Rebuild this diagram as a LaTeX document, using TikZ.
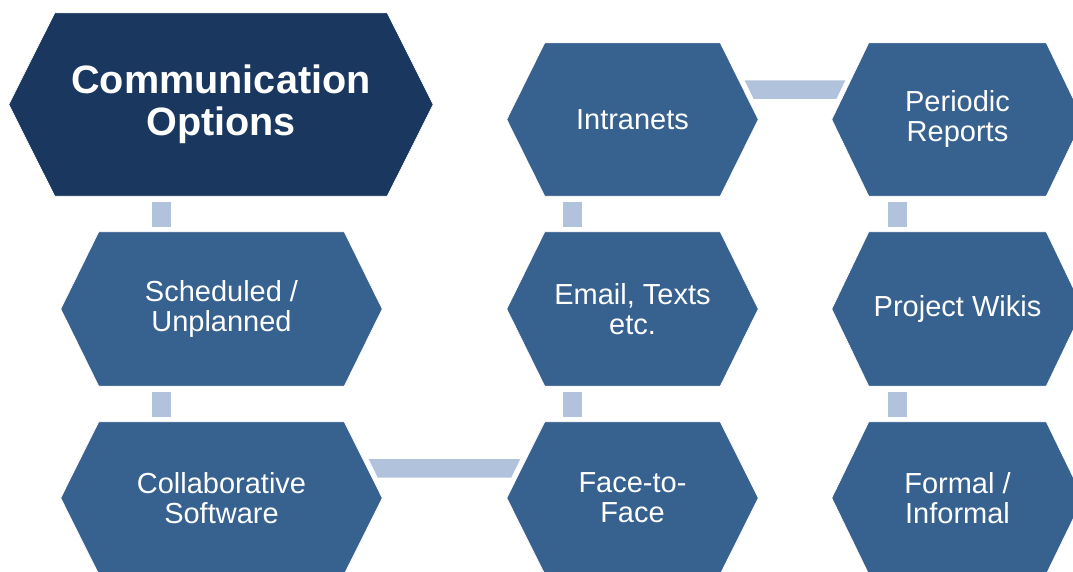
\documentclass[tikz,border=0pt]{standalone}
\usepackage{fontspec}
\setmainfont{Liberation Sans}
\usetikzlibrary{backgrounds,calc}
\definecolor{hexdark}{HTML}{1A375F}
\definecolor{hexmid}{HTML}{37618F}
\definecolor{connlight}{HTML}{B0C2DC}
\tikzset{
  hexbox/.style 2 args={minimum width=#1pt, minimum height=#2pt, inner sep=0pt,
    align=center, text=white, font=\fontsize{29}{30}\selectfont},
  titlefont/.style={font=\fontsize{39.6}{41.5}\selectfont\bfseries},
  darkfill/.style={fill=hexdark, draw=white, line width=0.6pt},
  midfill/.style={fill=hexmid, draw=white, line width=0.6pt},
  link/.style={fill=connlight}
}
\newcommand\hexfill[3]{\path[#3] (#1.west) -- ([xshift=#2pt]#1.north west) -- ([xshift=-#2pt]#1.north east) -- (#1.east) -- ([xshift=-#2pt]#1.south east) -- ([xshift=#2pt]#1.south west) -- cycle;}
\newcommand\vlink[2]{\fill[link] ($(#1.south -| #2.north)+(-69.5pt,-6pt)$) rectangle ($(#2.north)+(-50.5pt,5pt)$);}
\newcommand\hlink[2]{\fill[link] ($(#1.east)+(-13.5pt,39pt)$) -- ($(#2.west)+(13.5pt,39pt)$) -- ($(#2.west)+(4.5pt,20.5pt)$) -- ($(#1.east)+(-4.5pt,20.5pt)$) -- cycle;}
\begin{document}
\begin{tikzpicture}[x=1pt,y=-1pt]
\useasboundingbox (0,0) rectangle (1073,572);
\clip (0,0) rectangle (1073,572);
% nodes (text)
\node[hexbox={424}{183},titlefont] (comm) at (221,104.5) {Communication\\Options};
\node[hexbox={321}{154}] (sched) at (221.5,309) {Scheduled /\\Unplanned};
\node[hexbox={321}{152}] (collab) at (221.5,498) {Collaborative\\Software};
\node[hexbox={251}{153}] (intra) at (632.5,119.5) {Intranets};
\node[hexbox={251}{154}] (email) at (632.5,309) {Email, Texts\\etc.};
\node[hexbox={251}{152}] (face) at (632.5,498) {Face-to-\\Face};
\node[hexbox={251}{153}] (period) at (957.5,119.5) {Periodic\\Reports};
\node[hexbox={251}{154}] (wikis) at (957.5,309) {Project Wikis};
\node[hexbox={251}{152}] (formal) at (957.5,498) {Formal /\\Informal};
\begin{scope}[on background layer]
\hexfill{comm}{46}{darkfill}
\hexfill{sched}{38}{midfill}
\hexfill{collab}{38}{midfill}
\hexfill{intra}{38}{midfill}
\hexfill{email}{38}{midfill}
\hexfill{face}{38}{midfill}
\hexfill{period}{37}{midfill}
\hexfill{wikis}{37}{midfill}
\hexfill{formal}{37}{midfill}
% connectors
\vlink{comm}{sched}
\vlink{sched}{collab}
\hlink{collab}{face}
\vlink{email}{face}
\vlink{intra}{email}
\hlink{intra}{period}
\vlink{period}{wikis}
\vlink{wikis}{formal}
\end{scope}
\end{tikzpicture}
\end{document}
